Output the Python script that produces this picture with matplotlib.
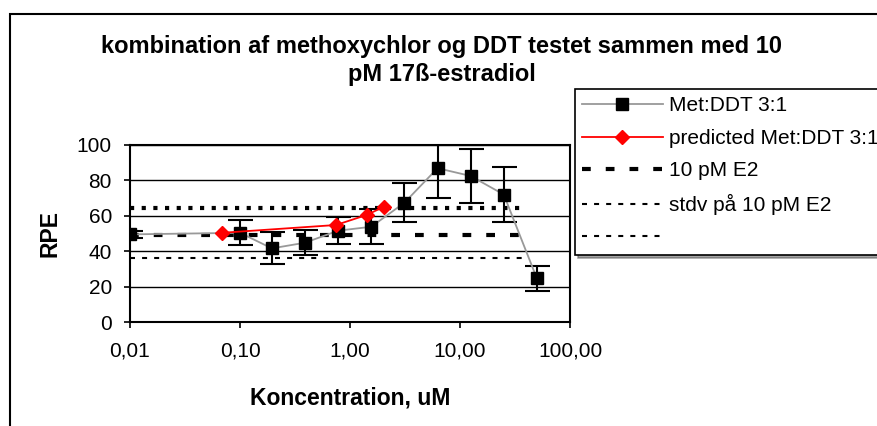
import matplotlib
matplotlib.use("Agg")
import matplotlib.pyplot as plt
from matplotlib.patches import Rectangle
from matplotlib.lines import Line2D
from matplotlib.ticker import FixedLocator, NullLocator

plt.rcParams['font.family'] = ['Liberation Sans', 'DejaVu Sans']

# Data
conc = [0.01, 0.1, 0.195, 0.39, 0.78, 1.56, 3.125, 6.25, 12.5, 25, 50]
rpe = [49.5, 50.4, 41.6, 44.8, 51.6, 53.8, 67.4, 86.9, 82.5, 72.0, 24.6]
rpe_err = [2.0, 7.0, 9.0, 7.0, 7.5, 10.0, 11.0, 17.0, 15.0, 15.5, 7.0]

pred_conc = [0.0686, 0.746, 1.42, 2.05]
pred_rpe = [50.4, 54.8, 60.5, 65.2]

e2_conc = [0.01, 37.5]
e2_level = [49.3, 49.3]
stdv_hi = [64.4, 64.4]
stdv_lo = [36.3, 36.3]

xticks = [0.01, 0.1, 1, 10, 100]
xticklabels = ["0,01", "0,10", "1,00", "10,00", "100,00"]
yticks = [0, 20, 40, 60, 80, 100]

title_lines = ["kombination af methoxychlor og DDT testet sammen med 10",
               "pM 17ß-estradiol"]
legend_labels = ['Met:DDT 3:1', 'predicted Met:DDT 3:1', '10 pM E2',
                 'stdv på 10 pM E2', ' ']

W, H = 877, 426
fig = plt.figure(figsize=(W / 100, H / 100), dpi=100)

# outer chart border
fig.patches.append(Rectangle((9.5 / W, -0.1), 1.2, 1 - 13.5 / H + 0.1,
                             transform=fig.transFigure, fill=False,
                             edgecolor='black', linewidth=1.5))

ax = fig.add_axes([130 / W, 1 - 322 / H, 440 / W, 177 / H])
ax.set_xscale('log')
ax.set_xlim(0.01, 100)
ax.set_ylim(0, 100)
ax.yaxis.set_major_locator(FixedLocator(yticks))
ax.xaxis.set_major_locator(FixedLocator(xticks))
ax.xaxis.set_minor_locator(NullLocator())
ax.set_xticklabels(xticklabels)
ax.grid(axis='y', color='black', linewidth=1.0)
ax.set_axisbelow(True)
for s in ax.spines.values():
    s.set_linewidth(1.5)
    s.set_color('black')
ax.tick_params(axis='both', direction='out', length=4, width=1.2,
               labelsize=15, colors='black')
ax.tick_params(axis='y', pad=9)
ax.tick_params(axis='x', pad=10)

ax.errorbar(conc, rpe, yerr=rpe_err, color='#999999', linewidth=1.3,
            marker='s', markersize=8, markerfacecolor='black',
            markeredgecolor='black', ecolor='black', elinewidth=1.5,
            capsize=9, capthick=1.5, zorder=5)
l2, = ax.plot(pred_conc, pred_rpe, color='red', linewidth=1.3, marker='D',
              markersize=7, markerfacecolor='red', markeredgecolor='red',
              zorder=6)
l3, = ax.plot(e2_conc, e2_level, color='black', linewidth=3,
              dashes=(2.1, 3.6), zorder=4)
ax.plot(e2_conc, stdv_hi, color='black', linewidth=3,
        dashes=(1, 1.8), zorder=4)
ax.plot(e2_conc, stdv_lo, color='black', linewidth=1.5,
        dashes=(2.4, 3.4), zorder=4)

ax.set_xlabel('Koncentration, uM', fontsize=16.5, fontweight='bold',
              labelpad=19)
ax.set_ylabel('RPE', fontsize=16.5, fontweight='bold', labelpad=11)

fig.text(442 / W, 1 - 47 / H, title_lines[0], ha='center', va='center',
         fontsize=17, fontweight='bold')
fig.text(442 / W, 1 - 74 / H, title_lines[1], ha='center', va='center',
         fontsize=17, fontweight='bold')

h1 = Line2D([], [], color='#999999', linewidth=1.3, marker='s',
            markersize=8, markerfacecolor='black', markeredgecolor='black')
h4 = Line2D([], [], color='black', linewidth=1.5, dashes=(2.4, 3.4))
h5 = Line2D([], [], color='black', linewidth=1.5, dashes=(2.4, 3.4))
leg = fig.legend([h1, l2, l3, h4, h5], legend_labels,
                 loc='upper left', bbox_to_anchor=(575 / W, 1 - 89 / H),
                 fontsize=15, frameon=True, fancybox=False, shadow=True,
                 handlelength=3.85, labelspacing=0.65, borderpad=0.35,
                 handletextpad=0.3, borderaxespad=0)
leg.get_frame().set_edgecolor('black')
leg.get_frame().set_linewidth(1.2)

fig.savefig('out.png', dpi=100)
